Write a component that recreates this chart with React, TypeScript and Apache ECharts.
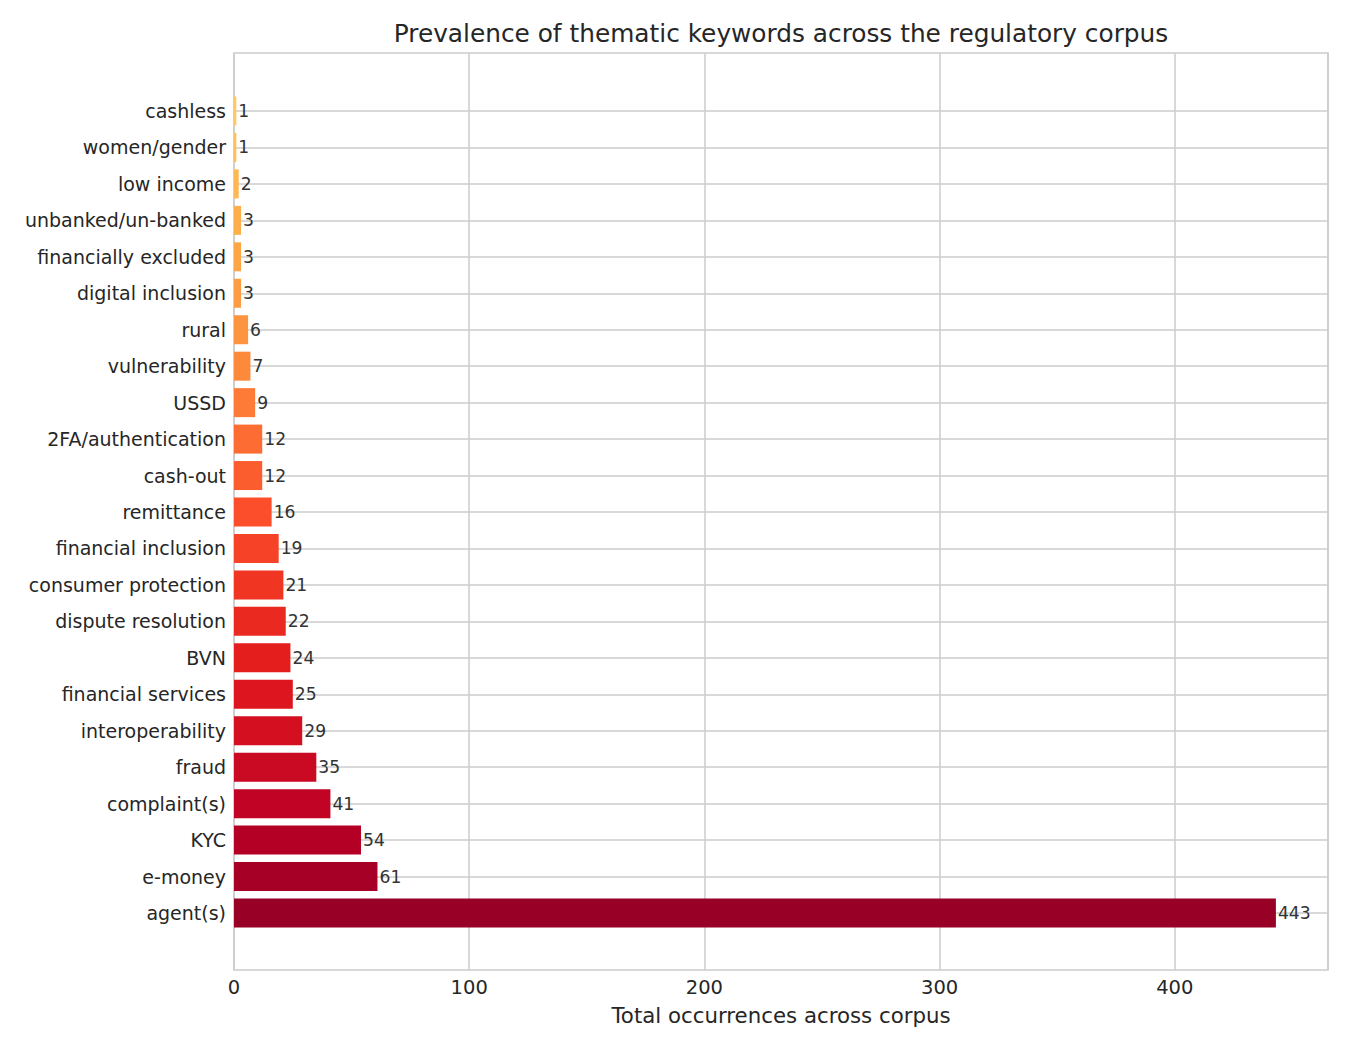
import React, { useEffect, useRef } from 'react';
import * as echarts from 'echarts';

// keywords, bottom to top (agent(s) sits at the bottom)
const keywords = [
  'agent(s)', 'e-money', 'KYC', 'complaint(s)', 'fraud', 'interoperability',
  'financial services', 'BVN', 'dispute resolution', 'consumer protection',
  'financial inclusion', 'remittance', 'cash-out', '2FA/authentication', 'USSD',
  'vulnerability', 'rural', 'digital inclusion', 'financially excluded',
  'unbanked/un-banked', 'low income', 'women/gender', 'cashless',
];
const counts = [443, 61, 54, 41, 35, 29, 25, 24, 22, 21, 19, 16, 12, 12, 9, 7, 6, 3, 3, 3, 2, 1, 1];
const xTicks = [0, 100, 200, 300, 400];

const TITLE = 'Prevalence of thematic keywords across the regulatory corpus';
const X_NAME = 'Total occurrences across corpus';

// YlOrRd colour stops
const YLORRD = [
  [255, 255, 204], [255, 237, 160], [254, 217, 118], [254, 178, 76], [253, 141, 60],
  [252, 78, 42], [227, 26, 28], [189, 0, 38], [128, 0, 38],
];
const cmap = (t: number) => {
  const p = t * (YLORRD.length - 1);
  const i = Math.min(Math.floor(p), YLORRD.length - 2);
  const f = p - i;
  const c = YLORRD[i].map((v, k) => Math.round(v + (YLORRD[i + 1][k] - v) * f));
  return `rgb(${c[0]},${c[1]},${c[2]})`;
};

const FONT = 'DejaVu Sans';
const TEXT = '#262626';
const GRID = '#cccccc';
const X_MAX = 443 * 1.05;

export default function App() {
  const ref = useRef<HTMLDivElement>(null);

  useEffect(() => {
    document.body.style.margin = '0';
    const chart = echarts.init(ref.current, null, { renderer: 'svg' });
    const n = keywords.length;

    chart.setOption({
      animation: false,
      textStyle: { fontFamily: FONT },
      title: {
        text: TITLE,
        left: 776,
        top: 16,
        textAlign: 'center',
        textStyle: { fontFamily: FONT, fontSize: 24.8, fontWeight: 'normal', color: TEXT },
      },
      grid: [
        // full plot frame
        { left: 234, right: 22, top: 53, bottom: 80, show: true, borderColor: GRID, borderWidth: 1.5 },
        // inner grid: first and last bar centres
        { left: 234, right: 22, top: 111, bottom: 137 },
      ],
      xAxis: [
        {
          gridIndex: 0,
          type: 'value',
          min: 0,
          max: X_MAX,
          interval: 100,
          axisLine: { show: false },
          axisTick: { show: false },
          splitLine: { show: true, lineStyle: { color: GRID, width: 1.5 } },
          axisLabel: {
            color: TEXT,
            fontSize: 19.5,
            fontFamily: FONT,
            margin: 7,
            showMaxLabel: false,
            formatter: (v: number) => (xTicks.includes(v) ? String(v) : ''),
          },
          name: X_NAME,
          nameLocation: 'middle',
          nameGap: 35,
          nameTextStyle: { color: TEXT, fontSize: 21.3, fontFamily: FONT },
        },
        {
          gridIndex: 1,
          type: 'value',
          min: 0,
          max: X_MAX,
          show: false,
        },
      ],
      yAxis: [
        { gridIndex: 0, type: 'value', show: false },
        {
          gridIndex: 1,
          type: 'category',
          data: keywords,
          boundaryGap: false,
          axisLine: { show: false },
          axisTick: { show: false },
          splitLine: { show: true, interval: 0, lineStyle: { color: GRID, width: 1.5 } },
          axisLabel: { interval: 0, color: TEXT, fontSize: 19, fontFamily: FONT, margin: 8 },
        },
      ],
      series: [
        {
          type: 'bar',
          xAxisIndex: 1,
          yAxisIndex: 1,
          barWidth: 29,
          clip: false,
          data: counts.map((v, i) => ({
            value: v,
            itemStyle: { color: cmap(0.95 - (i * 0.65) / (n - 1)) },
          })),
          label: {
            show: true,
            position: 'right',
            distance: 2,
            color: '#333333',
            fontSize: 17.2,
            fontFamily: FONT,
          },
        },
      ],
    });

    return () => chart.dispose();
  }, []);

  return <div ref={ref} style={{ width: 1350, height: 1050 }} />;
}
